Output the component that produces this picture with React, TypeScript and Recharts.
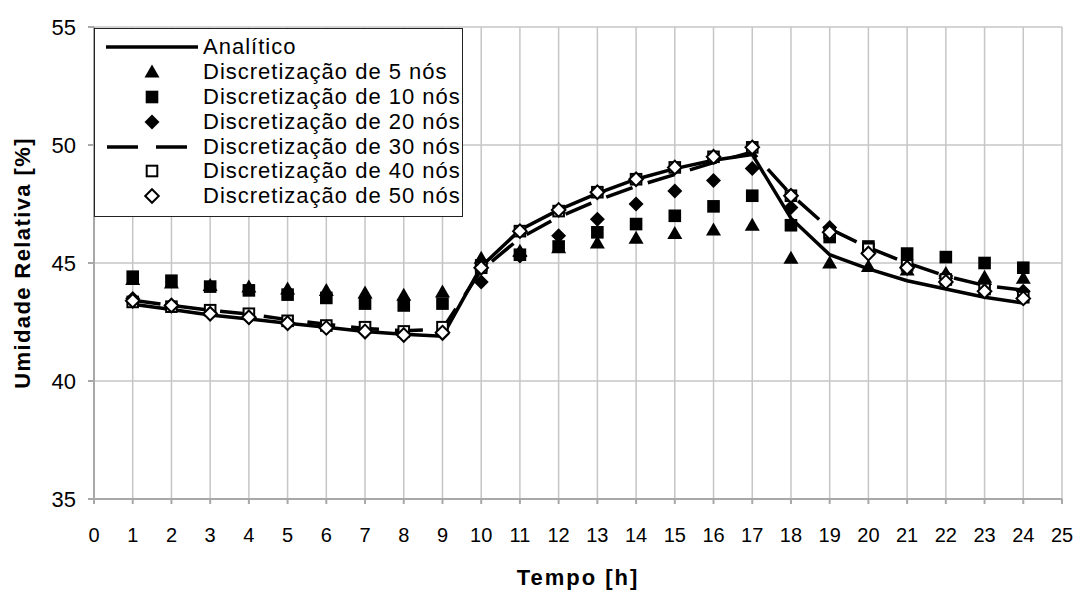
import type { ReactElement } from 'react';
import { CartesianGrid, Legend, Line, LineChart, XAxis, YAxis } from 'recharts';

const HOURS = [1, 2, 3, 4, 5, 6, 7, 8, 9, 10, 11, 12, 13, 14, 15, 16, 17, 18, 19, 20, 21, 22, 23, 24];

const ANALITICO = [43.25, 43.03, 42.8, 42.63, 42.45, 42.28, 42.1, 41.98, 41.9, 44.85, 46.4, 47.25, 47.95, 48.55, 49.0, 49.35, 49.6, 46.9, 45.35, 44.75, 44.25, 43.9, 43.55, 43.3];
const NOS_5 = [44.3, 44.15, 44.05, 43.98, 43.9, 43.84, 43.73, 43.63, 43.77, 45.2, 45.5, 45.65, 45.85, 46.05, 46.25, 46.4, 46.6, 45.2, 45.0, 44.85, 44.7, 44.55, 44.4, 44.35];
const NOS_10 = [44.42, 44.25, 44.0, 43.84, 43.66, 43.52, 43.28, 43.2, 43.28, 44.9, 45.35, 45.7, 46.3, 46.65, 47.0, 47.4, 47.85, 46.6, 46.1, 45.7, 45.4, 45.25, 45.0, 44.8];
const NOS_20 = [43.5, 43.2, 42.88, 42.69, 42.46, 42.29, 42.08, 42.0, 42.0, 44.2, 45.3, 46.15, 46.85, 47.5, 48.05, 48.5, 49.0, 47.35, 46.5, 45.45, 44.85, 44.45, 44.1, 43.8];
const NOS_30 = [43.42, 43.2, 43.0, 42.83, 42.6, 42.4, 42.22, 42.13, 42.2, 44.7, 46.05, 46.95, 47.65, 48.25, 48.75, 49.25, 49.7, 47.9, 46.45, 45.65, 45.0, 44.45, 44.05, 43.85];
const NOS_40 = [43.35, 43.15, 43.0, 42.85, 42.55, 42.35, 42.28, 42.1, 42.28, 44.8, 46.35, 47.2, 48.0, 48.55, 49.05, 49.5, 49.9, 47.85, 46.3, 45.6, 44.9, 44.3, 43.9, 43.55];
const NOS_50 = [43.4, 43.2, 42.85, 42.7, 42.45, 42.25, 42.1, 41.95, 42.05, 44.8, 46.35, 47.25, 48.0, 48.55, 49.05, 49.5, 49.9, 47.85, 46.3, 45.4, 44.8, 44.2, 43.8, 43.5];

const X_TICKS = [0, 1, 2, 3, 4, 5, 6, 7, 8, 9, 10, 11, 12, 13, 14, 15, 16, 17, 18, 19, 20, 21, 22, 23, 24, 25];
const Y_TICKS = [35, 40, 45, 50, 55];

const LEGEND_ITEMS = [
  { key: 'analitico', label: 'Analítico', kind: 'line' },
  { key: 'n5', label: 'Discretização de 5 nós', kind: 'triangle' },
  { key: 'n10', label: 'Discretização de 10 nós', kind: 'square' },
  { key: 'n20', label: 'Discretização de 20 nós', kind: 'diamond' },
  { key: 'n30', label: 'Discretização de 30 nós', kind: 'dash' },
  { key: 'n40', label: 'Discretização de 40 nós', kind: 'openSquare' },
  { key: 'n50', label: 'Discretização de 50 nós', kind: 'openDiamond' }
];

const data = HOURS.map((t, i) => ({
  t,
  analitico: ANALITICO[i],
  n5: NOS_5[i],
  n10: NOS_10[i],
  n20: NOS_20[i],
  n30: NOS_30[i],
  n40: NOS_40[i],
  n50: NOS_50[i]
}));

const FONT = '"Liberation Sans", Arial, sans-serif';

function markerShape(kind: string, cx: number, cy: number, key?: string | number): ReactElement | null {
  switch (kind) {
    case 'triangle':
      return <path key={key} d={`M${cx},${cy - 7.5} L${cx + 7.5},${cy + 5.5} L${cx - 7.5},${cy + 5.5} Z`} fill="#000" />;
    case 'square':
      return <rect key={key} x={cx - 6.3} y={cy - 6.3} width={12.6} height={12.6} fill="#000" />;
    case 'diamond':
      return <path key={key} d={`M${cx},${cy - 7.5} L${cx + 7.5},${cy} L${cx},${cy + 7.5} L${cx - 7.5},${cy} Z`} fill="#000" />;
    case 'openSquare':
      return <rect key={key} x={cx - 5.3} y={cy - 5.3} width={10.6} height={10.6} fill="#fff" stroke="#000" strokeWidth={2} />;
    case 'openDiamond':
      return (
        <path
          key={key}
          d={`M${cx},${cy - 6.8} L${cx + 6.8},${cy} L${cx},${cy + 6.8} L${cx - 6.8},${cy} Z`}
          fill="#fff"
          stroke="#000"
          strokeWidth={2}
        />
      );
    default:
      return null;
  }
}

function dotFor(kind: string) {
  return (props: any) => markerShape(kind, props.cx, props.cy, `${kind}-${props.index}`) ?? <g key={props.index} />;
}

function LegendBox() {
  return (
    <div
      style={{
        width: 369,
        height: 189,
        boxSizing: 'border-box',
        border: '1px solid #222',
        background: '#fff',
        paddingTop: 6,
        fontFamily: FONT
      }}
    >
      {LEGEND_ITEMS.map((item) => (
        <div key={item.key} style={{ display: 'flex', alignItems: 'center', height: 24.8 }}>
          <svg width={108} height={24} style={{ flex: 'none' }}>
            {item.kind === 'line' ? <line x1={11} x2={103} y1={12} y2={12} stroke="#000" strokeWidth={3.5} /> : null}
            {item.kind === 'dash' ? (
              <line x1={12} x2={103} y1={12} y2={12} stroke="#000" strokeWidth={3.5} strokeDasharray="31 18" />
            ) : null}
            {markerShape(item.kind, 57, 12)}
          </svg>
          <span style={{ fontSize: 22, letterSpacing: 1, color: '#000', lineHeight: '24px', whiteSpace: 'nowrap' }}>
            {item.label}
          </span>
        </div>
      ))}
    </div>
  );
}

export default function App() {
  return (
    <div style={{ position: 'absolute', left: 0, top: 0, width: 1078, height: 590, background: '#fff' }}>
      <LineChart width={1078} height={590} data={data} margin={{ top: 27, right: 16, bottom: 0, left: 0 }}>
        <CartesianGrid stroke="#c6c6c6" strokeWidth={1.5} />
        <XAxis
          dataKey="t"
          type="number"
          domain={[0, 25]}
          ticks={X_TICKS}
          interval={0}
          height={91}
          stroke="#a8a8a8"
          strokeWidth={2}
          tickSize={5}
          tickMargin={24}
          tick={{ fill: '#000', fontSize: 20, fontFamily: FONT }}
          label={{
            content: ({ viewBox }: any) => (
              <text
                x={viewBox.x + viewBox.width / 2}
                y={viewBox.y + 86}
                textAnchor="middle"
                fontFamily={FONT}
                fontSize={22}
                fontWeight="bold"
                letterSpacing={2}
                fill="#000"
              >
                Tempo [h]
              </text>
            )
          }}
        />
        <YAxis
          type="number"
          domain={[35, 55]}
          ticks={Y_TICKS}
          width={94}
          stroke="#a8a8a8"
          strokeWidth={2}
          tickSize={6}
          tickMargin={12}
          tick={{ fill: '#000', fontSize: 22, fontFamily: FONT }}
          label={{
            content: ({ viewBox }: any) => {
              const cx = viewBox.x + 22;
              const cy = viewBox.y + viewBox.height / 2;
              return (
                <text
                  x={cx}
                  y={cy}
                  transform={`rotate(-90, ${cx}, ${cy})`}
                  textAnchor="middle"
                  dominantBaseline="central"
                  fontFamily={FONT}
                  fontSize={22}
                  fontWeight="bold"
                  letterSpacing={1.4}
                  fill="#000"
                >
                  Umidade Relativa [%]
                </text>
              );
            }
          }}
        />
        <Legend
          layout="horizontal"
          verticalAlign="middle"
          align="center"
          wrapperStyle={{ left: 94, top: 28, width: 369, height: 189 }}
          content={() => <LegendBox />}
        />
        <Line dataKey="analitico" stroke="#000" strokeWidth={3.5} dot={false} activeDot={false} isAnimationActive={false} />
        <Line dataKey="n5" stroke="none" dot={dotFor('triangle')} activeDot={false} isAnimationActive={false} />
        <Line dataKey="n10" stroke="none" dot={dotFor('square')} activeDot={false} isAnimationActive={false} />
        <Line dataKey="n20" stroke="none" dot={dotFor('diamond')} activeDot={false} isAnimationActive={false} />
        <Line
          dataKey="n30"
          stroke="#000"
          strokeWidth={3.5}
          strokeDasharray="28 16"
          dot={false}
          activeDot={false}
          isAnimationActive={false}
        />
        <Line dataKey="n40" stroke="none" dot={dotFor('openSquare')} activeDot={false} isAnimationActive={false} />
        <Line dataKey="n50" stroke="none" dot={dotFor('openDiamond')} activeDot={false} isAnimationActive={false} />
      </LineChart>
    </div>
  );
}
